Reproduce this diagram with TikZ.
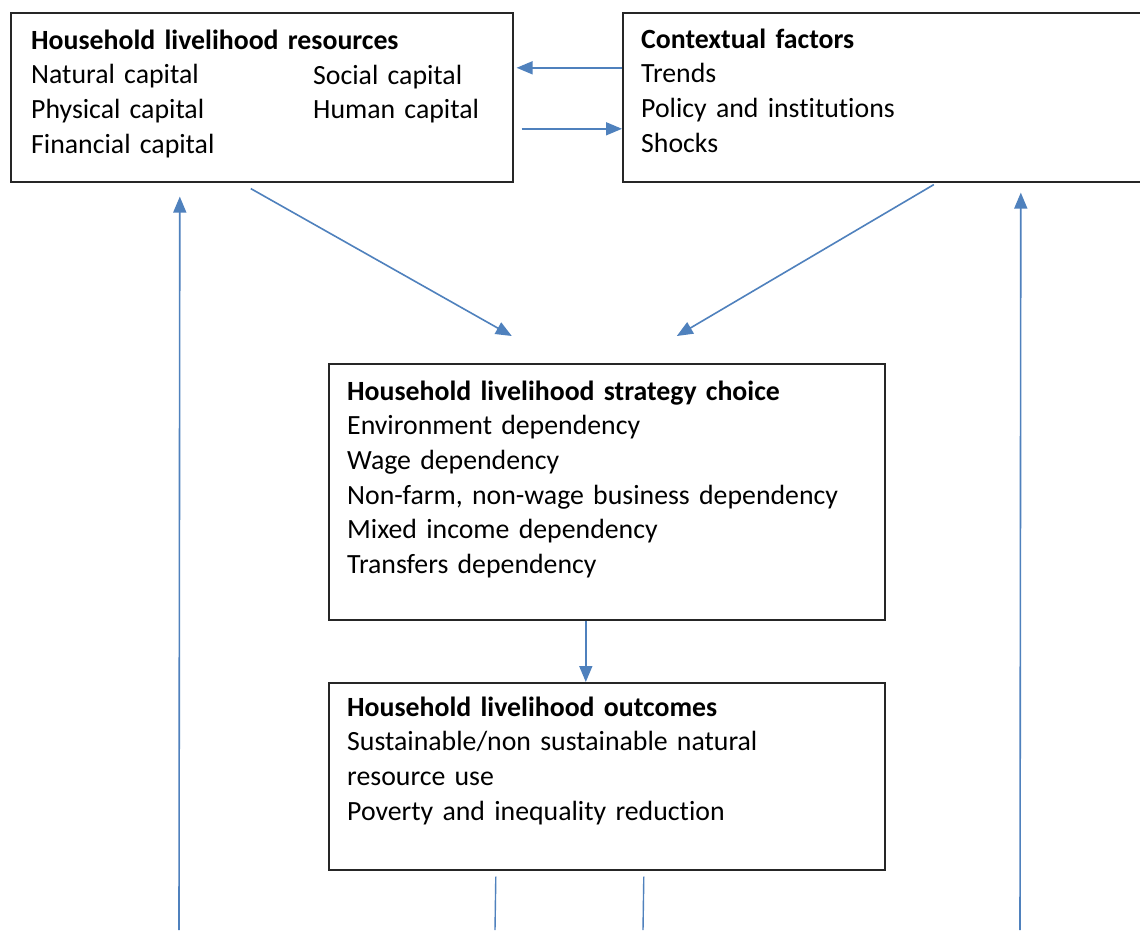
\documentclass[tikz,border=0pt]{standalone}
\usepackage{fontspec}
\setmainfont{Carlito}[Ligatures=NoCommon]
\usetikzlibrary{arrows.meta,positioning}
\definecolor{linkblue}{RGB}{79,129,189}
\tikzset{
	frame/.style={draw=black!85,line width=1.6pt,anchor=north west,inner sep=0pt},
	body/.style={anchor=base west,align=left,inner sep=0pt,font=\fontsize{27.8}{34.7}\selectfont},
	link/.style={draw=linkblue,line width=1.6pt,-{Triangle[length=16pt,width=13pt]}},
	plain/.style={draw=linkblue,line width=1.4pt}
}
\begin{document}
\begin{tikzpicture}[x=1pt,y=-1pt]
		\useasboundingbox[fill=white] (0,0) rectangle (1140,930);
		\path (10,12) node(res)[frame,minimum width=502pt,minimum height=169pt]{}
		(622,12) node(ctx)[frame,minimum width=523pt,minimum height=169pt]{}
		(328,363) node(strat)[frame,minimum width=556pt,minimum height=256pt]{}
		(328,682) node(outc)[frame,minimum width=556pt,minimum height=187pt]{};
		\path (31,49) node(restext)[body,text width=470pt]{\textbf{Household livelihood resources}\\Natural capital\\Physical capital\\Financial capital}
		(313,84) node(rescol)[body,text width=190pt]{Social capital\\Human capital}
		(641,48) node(ctxtext)[body,text width=480pt]{\textbf{Contextual factors}\\Trends\\Policy and institutions\\Shocks}
		(347,400) node(strattext)[body,text width=520pt]{\textbf{Household livelihood strategy choice}\\Environment dependency\\Wage dependency\\Non-farm, non-wage business dependency\\Mixed income dependency\\Transfers dependency}
		(347,716) node(outctext)[body,text width=520pt]{\textbf{Household livelihood outcomes}\\Sustainable/non sustainable natural\\resource use\\Poverty and inequality reduction};
		\coordinate (lbot) at (179,930);
		\coordinate (rbot) at (1020,930);
		\coordinate (mlbot) at (495,930);
		\coordinate (mrbot) at (643,930);
		\draw [link] ([yshift=29.5pt]ctx.west) to ([xshift=3pt,yshift=29.5pt]res.east);
		\draw [link] ([xshift=8pt,yshift=-31.5pt]res.east) to ([yshift=-31.5pt]ctx.west);
		\draw [link] ([xshift=-11pt,yshift=-6pt]res.south) to ([xshift=-95pt,yshift=27pt]strat.north);
		\draw [link] ([xshift=49.5pt,yshift=-2pt]ctx.south) to ([xshift=70pt,yshift=27pt]strat.north);
		\draw [link] ([xshift=-21pt]strat.south) to ([xshift=-21pt]outc.north);
		\draw [link] (lbot) to ([xshift=-82pt,yshift=-14pt]res.south);
		\draw [link] (rbot) to ([xshift=136.5pt,yshift=-10pt]ctx.south);
		\draw [plain] ([xshift=-111pt,yshift=-6pt]outc.south) to (mlbot);
		\draw [plain] ([xshift=37pt,yshift=-6pt]outc.south) to (mrbot);
	\end{tikzpicture}
\end{document}
